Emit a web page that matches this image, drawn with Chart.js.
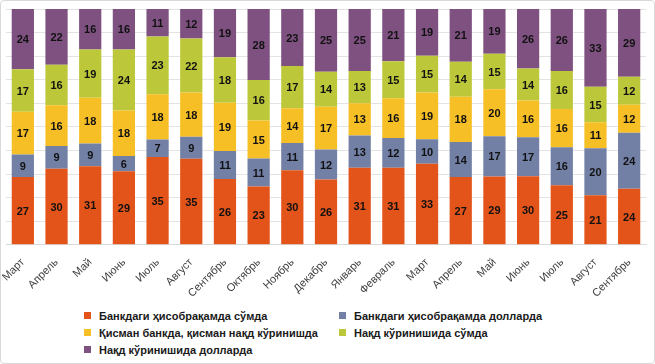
<!DOCTYPE html>
<html>
<head>
<meta charset="utf-8">
<script src="https://cdn.jsdelivr.net/npm/chart.js@4.4.1/dist/chart.umd.min.js"></script>
<style>
  html, body { margin: 0; padding: 0; background: #fff; }
  #frame {
    position: relative;
    width: 653px; height: 362px;
    border: 1px solid #d9d9d9; border-radius: 4px;
    overflow: hidden;
  }
  #chartBox { position: absolute; left: 0; top: 0; width: 653px; height: 302px; }
  .legend { position: absolute; font: bold 11px "Liberation Sans", Arial, sans-serif; color: #1a1a1a; }
  .legend div { height: 17px; line-height: 17px; white-space: nowrap; }
  .legend span { display: inline-block; width: 7px; height: 7px; margin-right: 8px; vertical-align: 1px; }
</style>
</head>
<body>
<div id="frame">
  <div id="chartBox"><canvas id="chart"></canvas></div>
  <div class="legend" id="leg1" style="left:83px; top:307px;"></div>
  <div class="legend" id="leg2" style="left:338px; top:307px;"></div>
</div>
<script>
// categories
var months = ['Март', 'Апрель', 'Май', 'Июнь', 'Июль', 'Август', 'Сентябрь', 'Октябрь', 'Ноябрь', 'Декабрь',
              'Январь', 'Февраль', 'Март', 'Апрель', 'Май', 'Июнь', 'Июль', 'Август', 'Сентябрь'];

// series values (as printed on the bars)
var bankSum    = [27, 30, 31, 29, 35, 35, 26, 23, 30, 26, 31, 31, 33, 27, 29, 30, 25, 21, 24];
var bankUsd    = [9, 9, 9, 6, 7, 9, 11, 11, 11, 12, 13, 12, 10, 14, 17, 17, 16, 20, 24];
var partly     = [17, 16, 18, 18, 18, 18, 19, 15, 14, 17, 13, 16, 19, 18, 20, 16, 16, 11, 12];
var cashSum    = [17, 16, 19, 24, 23, 22, 18, 16, 17, 14, 13, 15, 15, 14, 15, 14, 16, 15, 12];
var cashUsd    = [24, 22, 16, 16, 11, 12, 19, 28, 23, 25, 25, 21, 19, 21, 19, 26, 26, 33, 29];

var names = [
  'Банкдаги ҳисобрақамда сўмда',
  'Банкдаги ҳисобрақамда долларда',
  'Қисман банкда, қисман нақд кўринишда',
  'Нақд кўринишида сўмда',
  'Нақд кўринишида долларда'
];
var colors = ['#E3541A', '#7380A6', '#F7BF26', '#BCC83A', '#7E5180'];
var series = [bankSum, bankUsd, partly, cashSum, cashUsd];

// 100% stacked: share of each category total
var totals = months.map(function(m, i) {
  return series.reduce(function(s, arr) { return s + arr[i]; }, 0);
});

var datasets = series.map(function(arr, k) {
  return {
    label: names[k],
    data: arr.map(function(v, i) { return v / totals[i] * 100; }),
    raw: arr,
    backgroundColor: colors[k],
    borderWidth: 0,
    barPercentage: 0.66,
    categoryPercentage: 1.0
  };
});

// value labels in the middle of each segment
var valueLabels = {
  id: 'valueLabels',
  afterDatasetsDraw: function(chart) {
    var ctx = chart.ctx;
    ctx.save();
    ctx.font = 'bold 11px "Liberation Sans", Arial, sans-serif';
    ctx.fillStyle = '#111';
    ctx.textAlign = 'center';
    ctx.textBaseline = 'middle';
    chart.data.datasets.forEach(function(ds, k) {
      chart.getDatasetMeta(k).data.forEach(function(bar, i) {
        var mid = (bar.y + bar.base) / 2;
        ctx.fillText(ds.raw[i], bar.x, mid + 1);
      });
    });
    ctx.restore();
  }
};

new Chart(document.getElementById('chart'), {
  type: 'bar',
  data: { labels: months, datasets: datasets },
  options: {
    responsive: true,
    maintainAspectRatio: false,
    animation: false,
    layout: { padding: { left: 5, right: 8, top: 8, bottom: 0 } },
    plugins: { legend: { display: false }, tooltip: { enabled: false } },
    scales: {
      x: {
        stacked: true,
        grid: { display: false },
        border: { color: '#d9d9d9' },
        ticks: {
          minRotation: 45, maxRotation: 45, autoSkip: false,
          color: '#404040',
          font: { family: '"Liberation Sans", Arial, sans-serif', size: 11 }
        }
      },
      y: {
        stacked: true,
        min: 0, max: 100,
        ticks: { display: false, stepSize: 10 },
        border: { display: false },
        grid: { color: '#e3e3e3', drawTicks: false }
      }
    }
  },
  plugins: [valueLabels]
});

// legend in two columns, same order as the reference
var leg1 = document.getElementById('leg1');
var leg2 = document.getElementById('leg2');
names.forEach(function(n, k) {
  var row = document.createElement('div');
  row.innerHTML = '<span style="background:' + colors[k] + '"></span>' + n;
  (k % 2 === 0 ? leg1 : leg2).appendChild(row);
});
</script>
</body>
</html>
